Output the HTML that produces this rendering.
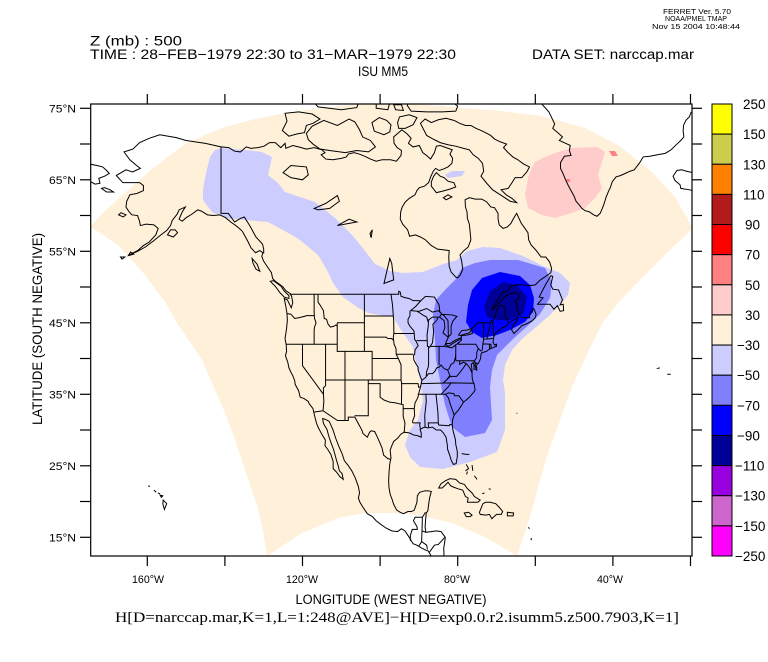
<!DOCTYPE html>
<html><head><meta charset="utf-8"><style>
html,body{margin:0;padding:0;background:#fff;}
svg{display:block;}
text{font-family:"Liberation Sans",Arial,sans-serif;fill:#000;}
</style></head><body>
<svg width="768" height="662" viewBox="0 0 768 662" xmlns="http://www.w3.org/2000/svg">
<defs><clipPath id="fr"><rect x="90.7" y="104" width="601.3" height="452"/></clipPath></defs>
<rect width="768" height="662" fill="#fff"/>
<g clip-path="url(#fr)">
<path fill="#fff0da" d="M90,227 L100,216 L118,199 L135,184 L152,169 L168,157 L185,144 L205,135 L225,127 L255,119 L285,113 L320,108 L352,105 L380,104 L410,104 L452,107 L500,111 L542,116 L585,128 L618,145 L652,172 L675,197 L692,227 L692,229 L670,250 L652,268 L635,285 L618,303 L603,322 L588,352 L572,387 L560,420 L548,453 L540,480 L532,510 L524,535 L517,556 L485,537 L452,523 L418,515 L395,513 L365,513 L338,518 L302,533 L267,556 L263,530 L257,505 L245,470 L235,440 L225,413 L213,385 L202,360 L190,342 L178,325 L165,302 L145,275 L118,245 L100,233 Z"/>
<path fill="#ccccff" d="M210,157 L215,150 L222,148 L245,150 L262,152 L272,157 L270,166 L268,175 L278,183 L285,192 L300,197 L315,202 L325,210 L335,218 L345,228 L352,235 L362,247 L375,264 L390,271 L403,273 L423,272 L443,264 L457,260 L467,251 L483,247 L500,248 L523,256 L543,266 L560,273 L570,283 L568,295 L560,305 L550,315 L535,328 L523,338 L512,350 L505,365 L503,380 L505,393 L505,430 L497,452 L470,462 L443,469 L420,467 L410,457 L405,445 L410,430 L418,420 L423,400 L420,380 L417,367 L413,347 L403,333 L393,317 L368,313 L357,307 L343,297 L333,283 L327,270 L318,255 L300,240 L292,235 L268,222 L245,220 L225,218 L212,212 L203,200 L203,190 L205,178 L208,165 Z"/>
<path fill="#ccccff" d="M445,175 L452,171 L465,171 L462,176 L448,178 Z"/>
<path fill="#8080ff" d="M433,315 L436,300 L445,290 L455,280 L462,268 L475,263 L490,260 L518,260 L545,268 L552,282 L550,298 L540,314 L532,322 L512,340 L497,355 L492,370 L490,387 L492,420 L485,433 L465,437 L452,427 L445,405 L440,380 L436,360 L435,340 Z"/>
<path fill="#0000ff" d="M466,322 L468,305 L472,290 L482,278 L500,272 L520,276 L530,285 L534,298 L533,312 L525,322 L510,330 L497,335 L482,338 L472,332 Z"/>
<path fill="#000099" d="M484,307 L490,291 L503,282 L517,285 L527,297 L524,313 L510,320 L497,320 L487,317 Z"/>
<path fill="#ffcccc" d="M532,167 L535,162 L545,157 L558,152 L572,148 L598,147 L605,152 L602,162 L598,175 L602,188 L595,198 L585,208 L572,213 L555,218 L542,215 L528,208 L525,195 L528,178 Z"/>
<path fill="#ff8080" d="M609,151 L615,151 L618,156 L612,156 Z M566,179 L570,179 L570,182 L566,182 Z"/>
<g transform="matrix(3.88 0 0 -7.15 768.1 644.55)" fill="none" stroke="#000" stroke-width="1" vector-effect="non-scaling-stroke">
<g vector-effect="non-scaling-stroke">
<path vector-effect="non-scaling-stroke" d="M-141,69.6 L-145,70.1 -150,70.5 -152.5,70.9 -156.8,71.3 -159.5,70.8 -162,70.2 -163.7,69.3 -166,68.9 -164.5,67.8 -163,67.1 -161.8,66.6 -163.8,66.1 -165.5,66.4 -168,65.6 -166.3,64.6 -164.5,64.6 -162,64.6 -161,64.2 -161,63.5 -162.6,63.1 -164.5,62.9 -165.3,62 -165.5,61.2 -164.8,60.6 -164,60.1 -162.5,60 -162,59.2 -161.8,58.6 -160.3,58.8 -158.3,58.7 -157.2,58.2 -157.8,57.3 -159.5,56.3 -161,55.8 -162.5,55.1 -164.6,54.5 -162.5,55 -160.5,55.6 -158.5,56.4 -156.5,57.3 -155,57.9 -154,58.6 -153.6,59.3 -152.3,60.2 -151.8,60.8 -150.2,61.2 -151,60.5 -151.8,59.5 -151,59.2 -150,59.7 -148.5,60.2 -147,60.8 -146,60.6 -144.5,60.1 -143,60 -141.3,60.1 -139.8,59.7 -138.5,59.1 -137.2,58.6 -136.3,58.2 -135.5,57.8 -134.7,57 -134,56.3 -133.3,55.5 -132.1,54.8 -131,55.1 -130.2,54.8 -130.5,54.3 -130,53.6 -129,52.8 -128,52 -127.7,51.2 -127,50.8 -125.7,50.3 -125,50 -124.3,49.5 -123.2,49.1 -122.8,48.7 -122.5,47.8 -122.9,47.1 -123.9,48.2 -124.7,48.4 -124.3,47.3 -124,46.3 -123.9,45.4 -124.1,44.2 -124.5,42.8 -124.2,41.9 -124.1,41 -124.4,40.4 -123.8,39.5 -123.5,38.7 -123,38.1 -122.5,37.6 -122,36.9 -121.9,36.4 -121,35.5 -120.6,34.6 -119.6,34.4 -118.5,34 -118.3,33.7 -117.3,33 -117.1,32.5 -116.7,31.6 -116.3,30.8 -115.8,30.2 -114.9,29.3 -114.1,28.6 -114.2,27.8 -113.5,27.3 -112.7,26.6 -112.1,25.6 -112.1,24.6 -111.2,24.1 -110.4,23.5 -109.5,23.1 -109.8,23.9 -110.5,24.3 -110.7,24.8 -111.3,25.9 -112,27.3 -112.7,28.3 -113.2,29.1 -113.7,30.1 -114.6,30.9 -114.8,31.6 -114.1,31.5 -113.1,31.2 -112.2,30.1 -111.4,28.8 -110.7,27.8 -109.8,26.7 -109.2,25.7 -108.3,25.1 -107.3,24.3 -106.4,23.3 -105.6,22.1 -105.3,21.2 -105.6,20.5 -105.2,19.9 -104.3,19.1 -103.3,18.3 -102,17.9 -101,17.3 -99.8,16.8 -98.5,16.3 -97,15.9 -95.5,15.8 -94.5,16.2 -93.6,15.9 -92.5,15 -91.5,14.1 -90.5,13.9 -89.3,13.5 -88.2,13.2 -87.6,13.1 -87.3,12.8 -86.6,12.2 -86,11.6"/>
<path vector-effect="non-scaling-stroke" d="M-83.5,12 L-83.6,13.5 -83.3,14.5 -83.2,15 -84.3,15.8 -85.5,15.9 -86.8,15.8 -88.2,15.7 -88.4,16.4 -88.3,17.3 -88.1,18.4 -87.7,18.7 -87.5,19.6 -87.2,20.6 -86.8,21.4 -87.6,21.5 -88.5,21.5 -89.8,21.3 -90.4,20.8 -90.5,19.9 -91.2,18.8 -91.9,18.6 -92.8,18.6 -94,18.3 -94.8,18.5 -95.7,18.8 -96.5,19.6 -96.9,20.3 -97.4,21 -97.7,21.9 -97.8,22.9 -97.7,24.1 -97.5,25.3 -97.2,26.1 -97.4,27.2 -97,27.8 -96.5,28.4 -95.4,28.9 -94.7,29.4 -93.8,29.7 -92.5,29.6 -91.3,29.3 -90.3,29.2 -89.4,29 -89.4,29.6 -89.7,30.1 -88.6,30.4 -87.6,30.3 -86.5,30.4 -85.5,30 -84.4,30 -83.7,29.6 -83,29 -82.7,28 -82.6,27.3 -82,26.4 -81.7,25.8 -81.1,25.2 -80.4,25.3 -80.1,26.3 -80.1,27 -80.5,28 -80.6,28.7 -81.2,29.9 -81.4,30.7 -81.3,31.5 -80.8,32.2 -79.8,32.8 -79.2,33.3 -78.5,33.9 -77.8,34.2 -76.8,34.7 -76,35.2 -75.5,35.6 -75.8,36.5 -76.2,37 -76.3,37.6 -76.3,38.3 -76.5,39.2 -76.1,39.4 -75.5,39 -75.1,38.3 -75.1,38.8 -75.5,39.5 -74.9,39.2 -74.5,39.5 -74.1,40 -74,40.6 -73.8,40.8 -72.6,41 -71.9,41.3 -71,41.5 -70.6,41.6 -70,41.7 -70,42 -70.5,41.9 -70.9,42.3 -70.7,43 -70.2,43.6 -69.5,43.9 -68.5,44.3 -67.5,44.5 -67,44.9 -66.2,45.2 -65,45.6 -64.4,45.8 -64.8,45.2 -65.8,44.6 -66.1,44 -65.5,43.5 -64.5,44 -63.5,44.6 -62.5,44.8 -61,45.2 -60,45.7 -59.8,46.2 -60.4,47 -61,46.6 -61.4,46.2 -61.5,45.7 -62.5,45.7 -63.5,45.8 -64.2,46.2 -64.6,46.8 -64.8,47.8 -65.3,48 -64.3,48.4 -64.3,48.9 -65.2,49.2 -66.5,49.1 -68,48.6 -69.2,47.9 -70.3,47.2 -71.2,46.8 -70.5,47.4 -69.7,48.2 -68.3,49.3 -67.2,49.4 -66.2,50.2 -64.5,50.3 -63,50.3 -61.5,50.2 -60,50.3 -58.7,51 -57.3,51.5 -56,52 -55.8,52.6 -56.3,53.5 -57.3,54.2 -58.5,54.2 -59.9,55.2 -61.1,55.9 -61.7,56.6 -61.9,57.6 -62.8,58.3 -63.6,58.9 -64.2,59.6 -64.8,60.3 -65.4,59.8 -66.3,58.9 -67.2,58.4 -68.3,58.2 -69.3,58.7 -69.6,59.5 -69.6,60.3 -70.5,61.1 -71.5,61.2 -72.5,61.9 -73.8,62.3 -75.5,62.3 -77,62.5 -78.1,62.2 -78,61.2 -77.6,60.5 -77.5,59.6 -77,58.8 -76.8,57.7 -76.6,56.6 -77.3,55.6 -78.4,55.1 -79.4,54.5 -79,53.7 -78.7,52.5 -79.3,51.7 -80,51.3 -80.5,51.4 -81.7,52.1 -82.2,52.9 -82.3,54.2 -82.2,55.1 -83.5,55.2 -85.2,55.3 -86.8,55.8 -88.3,56.6 -89.6,57 -90.9,57.3 -92.4,57.1 -92.9,58 -94.2,58.8 -94.8,59.5 -94.7,60.5 -94.3,61.2 -93.5,61.9 -92.5,62.4 -91,62.9 -90.5,63.5 -89.9,63.9 -88.6,64.1 -87.5,64.6 -86.9,65.5 -86.3,66.2 -85.7,66.6 -84.8,66.3 -83.7,66.5 -82.5,66.8 -81.5,67.3 -81.3,68 -82,68.6 -81.4,69.2 -83,69.5 -84.5,69.8 -85.5,69.7 -86,68.8 -87,67.9 -88,68.4 -89,68.8 -89.9,69.8 -91.5,69.6 -92.7,70.1 -92,70.8 -93,71.4 -94.4,72 -95.2,71.6 -96.5,71 -96.4,70.1 -95.6,69.5 -94.5,69.1 -94.6,68.4 -95.8,67.6 -97.3,67.8 -98.6,67.8 -99.5,67.8 -101,67.6 -102.5,67.9 -104,68.3 -105.4,68.6 -106.7,68.8 -108.2,68.6 -108.7,68.2 -110,68 -112.2,67.8 -114,67.9 -115.2,68.5 -114.2,68.8 -115,69.2 -117,69.5 -119,69.3 -121,69.6 -122.5,69.8 -124.3,69.4 -124.5,70.1 -125.6,69.5 -127,70.2 -128.5,70.2 -129.9,69.7 -131.5,69.5 -133.3,69.4 -134.5,69.6 -136,68.9 -137.5,69 -139,69.5 -141,69.6"/>
<path vector-effect="non-scaling-stroke" d="M-58,76.6 L-58.5,75.7 -57.5,75.1 -56.5,74.5 -55.7,73.6 -55,72.8 -55.5,72.2 -54,71.5 -53,71 -53.8,70.5 -52.2,70.1 -51,69.8 -51.2,69.1 -50.8,68.4 -52.5,68.3 -53.5,67.4 -53.5,66.6 -52.8,65.8 -52.2,65 -51.5,64.2 -50.7,63.4 -50,62.7 -49.5,62 -48.7,61.5 -48,61 -47.2,60.7 -46,60.5 -45,60.1 -44.1,59.9 -43.3,60.3 -42.8,60.9 -42.3,61.6 -41.8,62.5 -41.2,63.3 -40.6,64 -40.2,64.7 -39.2,65.4 -38,65.6 -36.8,65.9 -35.6,66.2 -34.5,66.4 -33.2,67.3 -32.2,68.2 -30.5,68.3 -28.5,68.5 -26.5,68.7 -25,69.2 -23.5,70 -22.5,70.5 -21.7,71 -21.9,71.8 -21.8,72.6 -21.2,73.3 -20.3,73.8 -19.8,74.5"/>
<path vector-effect="non-scaling-stroke" d="M-24.5,65.5 L-23.5,66.3 -22.3,66.4 -21,66.2 -19.5,66 -18,66.2 -16,66.5 -14.5,66 -13.6,65.2 -14.8,64.4 -16.5,63.8 -18.5,63.4 -20.3,63.6 -22.5,63.8 -22.7,64.3 -24,64.9 Z"/>
<path vector-effect="non-scaling-stroke" d="M-125.2,71.9 L-124,73.2 -124.5,74.3 -121,74.5 -117.5,74.2 -115.5,73.5 -117.3,72.9 -119,72.6 -119.5,71.6 -121.5,71.4 -123.5,71.1 Z M-119,71.5 L-117.5,72.5 -114.5,73.3 -111,72.6 -108,73.5 -106.5,73.1 -105.3,72 -104.5,71 -102.5,70.5 -101.2,69.6 -103,68.9 -106,69.1 -109,68.8 -113,69.1 -115.5,69.3 -117.3,70 -118.5,70.6 Z M-101.5,71.8 L-99,71.3 -97.5,71.7 -97.2,72.7 -98.3,73.3 -100.2,73.7 -102.1,73 Z M-95.2,72.2 L-93.5,72.2 -91.5,72.7 -90.5,73.7 -92.5,74.1 -95,73.8 -95.5,73 Z M-92,74.6 L-88,74.5 -84,74.5 -80.5,74.6 -80,75.3 -82,76.1 -85,75.8 -88,75.9 -90,76.3 -92.5,76.2 -93,75.4 Z M-96,74.8 L-94,74.7 -94.5,75.5 -96.5,75.5 Z M-101,75 L-98,74.8 -97.5,75.8 -98.5,76.2 -101,76.3 Z M-116,75.2 L-110,74.8 -106,75.1 -105.5,75.9 -108,76.3 -112,76.3 -116,76.5 -117.5,76.1 Z"/>
<path vector-effect="non-scaling-stroke" d="M-64.8,61.8 L-66,62.4 -67.5,62.9 -68.8,63.6 -67,63.8 -66,64.6 -65.2,65.3 -63.5,65.3 -62.2,66.1 -61.5,66.8 -63,67.2 -64.5,67.8 -65.8,68.2 -67,68.8 -68.2,69.5 -67.4,70 -69,70.3 -70.5,70.7 -71.5,71.2 -72.5,71.5 -74,71.9 -75.3,72.2 -76.6,72.6 -78,72.6 -79.5,72.9 -80.9,73.3 -83,73.6 -85,73.4 -86.8,73 -88.4,73.5 -89.6,72.9 -88,71.2 -86,70.6 -84.5,70.2 -82.5,69.9 -80.5,69.7 -78.5,69.4 -77,69.2 -76,68.5 -74.7,68 -73.6,67.3 -73.3,66.2 -74,65.5 -72.5,64.5 -71,63.6 -69,62.9 -66.5,62 Z M-86.8,64.1 L-85.5,63.2 -84,63.4 -82,63.7 -80.5,64 -81,64.6 -82.5,64.8 -83.5,65.3 -84.5,65.5 -85.5,66 -86.2,65.5 -86.8,64.7 Z M-83,62.2 L-81.5,62.6 -82.5,62.9 -83.7,62.5 Z"/>
<path vector-effect="non-scaling-stroke" d="M-125,66 L-123,67 -119,66.8 -118.5,65.7 -120,65 -123,65.3 Z M-117,61 L-114,61.7 -111,62.8 -110.5,62 -113,61 -116,60.8 Z M-111,58.6 L-108,59.5 -106,59.1 -108,58.9 Z M-99,50.5 L-97.5,54 -97,53.3 -96.5,51 Z M-102.3,56.9 L-102,58 -102.6,57.5 Z"/>
<path vector-effect="non-scaling-stroke" d="M-59.4,47.6 L-58,48.5 -59,48.6 -57.5,50.2 -56,51.6 -55.5,51.5 -56,50.3 -55.5,49.7 -54,49.6 -53.5,48.9 -53,48.2 -53.6,47.5 -52.8,47.6 -52.7,46.7 -53.6,46.6 -54.3,47.4 -55.2,46.9 -56.2,47.6 -58,47.6 Z M-128.3,50.8 L-127,50.1 -125.8,49.2 -124.7,48.6 -123.5,48.4 -123.5,48.8 -124.8,49.5 -125.5,50.1 -127.5,50.9 Z M-133,54 L-131.7,53.2 -131,52.2 -132,52.5 -132.8,53.4 Z M-154.8,57.3 L-153.3,57 -152.2,57.6 -152.8,58 -154,58 Z M-171.8,63.8 L-170.5,63.3 -168.7,63.3 -169.6,63.6 -171,63.9 Z M-166.8,60.4 L-165.5,60.1 -166.2,59.8 -167.4,60.1 Z M-166.5,53.9 L-165.8,54.2 -166.9,54.2 Z M-164.9,54.4 L-163.5,54.6 -164.3,54.9 Z M-174.8,67.2 L-173,67 -171.5,66.8 -170.5,66.3 -169.8,65.9 -171,65.5 -172.5,65.2 -172.2,64.5 -173.5,64.4 -174.8,64.8"/>
<path vector-effect="non-scaling-stroke" d="M-84.9,21.9 L-84.3,22.5 -83.2,22.9 -82,23.2 -80.5,23.1 -79.5,22.6 -78.3,22.4 -77.5,21.8 -76.3,21.2 -75.7,20.7 -74.2,20.2 -74.8,19.9 -76,19.9 -77.5,19.9 -77.3,20.5 -78,20.7 -78.7,21.6 -80,21.8 -81,22 -81.8,22.2 -82.5,22.7 -83.2,22.3 -84,21.9 Z M-74.4,18.5 L-73.5,19.7 -72.8,19.9 -71.6,19.9 -70.2,19.7 -69.3,19.2 -68.4,18.6 -68.8,18.2 -70,18.2 -71.2,17.6 -71.8,18.2 -72.8,18.1 -74.2,18.2 Z M-78.3,18.4 L-77.2,18.5 -76.3,18.1 -76.8,17.9 -77.8,17.9 Z M-67.2,18.5 L-65.6,18.4 -65.7,18 -67.2,18 Z M-79,26.7 L-77.8,26.6 -77,26.6 M-77.8,25.2 L-77.2,24.6 -78,24.3 M-76.3,25.1 L-76.1,24.3 M-75.7,23.6 L-75,23.1 M-77.5,24.2 L-77.7,23.8 M-73.7,21.1 L-73.1,21.2 M-72,21.8 L-71.5,21.7 M-61.8,16.4 L-61.5,16.2 M-61,14.6 L-61.1,14.9 M-64.8,32.3 L-64.7,32.4 M-28.7,38.6 L-27.9,38.7 M-26,37.8 L-25.1,37.8"/>
<path vector-effect="non-scaling-stroke" d="M-155.9,20.2 L-155,19.7 -155.6,18.9 -156,19.7 Z M-156.7,20.9 L-156,20.8 -156.4,20.6 Z M-157.3,21.2 L-156.7,21.1 M-158.3,21.6 L-157.7,21.3 M-159.8,22.2 L-159.3,22.1"/>
<path vector-effect="non-scaling-stroke" d="M-92.1,46.7 L-90,46.6 -88,47 -86.5,46.5 -85,46.7 -84.6,46.5 -84.8,47.5 -86,48.6 -88.3,48.7 -89.5,48.1 -90.8,47.3 Z M-87.8,41.7 L-87.2,41.6 -86.5,42.2 -86.2,43.8 -86.4,44.8 -85.6,45.2 -85,45.8 -86.5,45.8 -87.5,45.4 -87.6,44.5 -87.9,43.3 Z M-84.7,45.8 L-83.5,45.3 -83.3,44.3 -83.8,43.6 -82.5,43 -81.7,43.4 -81.7,44.5 -81.3,45.2 -80.2,45.9 -81.5,46.1 -84.2,46.2 Z M-83.4,41.7 L-81.5,41.5 -80,42.1 -79,42.6 -79.2,42.9 -80.5,42.6 -82,42.1 -83.1,42.1 Z M-79.8,43.3 L-79.2,43.2 -77.5,43.3 -76.2,43.5 -76.5,44.2 -77.5,44 -79,43.9 Z"/>
<path vector-effect="non-scaling-stroke" d="M-141,69.6 L-141,60.3 -139.1,60.3 -137.5,59.1 -136,59.6 -135,59.8 -133.5,58.5 -132,57 -130.3,56 -130,55.3 -130,54.7 M-123.3,49 L-95.2,49 -95.2,49.4 -94.8,49.3 -94.6,48.7 -93.5,48.5 -92.5,48.4 -91.5,48.1 -90,48.1 -89.5,48 M-84.5,46.5 L-84.1,46.2 -83.5,46 -82.5,45.3 -82.4,43 -83,42.3 -83.1,42 -82.4,41.7 -81,42.2 -79.1,42.8 -79,43.3 -77,43.6 -76.3,44.2 -75,44.9 -74.7,45 -71.5,45 -71.3,45.3 -70.8,45.4 -70.3,45.9 -70,46.7 -69.2,47.4 -68.3,47.4 -67.8,47.1 -67.8,45.8 -67.4,45.6 -67,45.1"/>
<path vector-effect="non-scaling-stroke" d="M-124,46.3 L-123,46.2 -122,45.6 -121,45.7 -119.5,45.9 -119,46 -117,46 M-117,49 L-117,46.4 -116.9,45.6 -116.5,45 -116.9,44.4 -117,44 -117,42 M-124.2,42 L-111,42 M-116,49 L-116,47.9 -115.5,47.5 -114.6,46.7 -114.4,45.6 -113.8,45.5 -113.4,44.8 -112.8,44.4 -112,44.5 -111.4,44.7 -111,44.5 M-111.05,45 L-104.05,45 M-111.05,45 L-111.05,41 -104.05,41 M-104.05,49 L-104.05,41 -102.05,41 -102.05,37 M-114.05,42 L-114.05,37 -109.05,37 -109.05,41 M-120,42 L-120,39 -114.6,35 M-114.05,37 L-114.05,36.2 -114.6,35.9 -114.6,35 -114.5,34 -114.7,32.7 M-109.05,37 L-102.05,37 M-102.05,40 L-95.3,40 M-109.05,37 L-109.05,31.33 M-117.1,32.5 L-114.7,32.7 -111,31.33 -108.2,31.33 -108.2,31.8 -106.5,31.8 -105.5,30.8 -104.7,30 -104.4,29.5 -103.3,29 -102.7,29.7 -102.3,29.9 -101.4,29.8 -100.6,28.9 -99.5,27.5 -99.1,26.5 -98,26 -97.2,25.9 M-106.6,32 L-103.05,32 -103.05,37 M-103.05,36.5 L-100,36.5 -100,34.6 -99,34.2 -97.5,33.9 -96,33.8 -94.5,33.6 -94.05,33.55 -94.05,31.9 -93.6,31 -93.7,30.2 -93.8,29.7 M-103.05,37 L-94.6,37 M-94.6,37 L-94.45,36.5 -94.45,35.4 -94.5,33.6 M-95.3,40 L-94.9,39.5 -94.6,39.1 -94.6,37 M-104.05,43 L-98.5,43 -98,42.8 -97,42.8 -96.5,42.5 -96.4,42 -95.9,41.4 -95.85,40.6 -95.3,40 M-104.05,45.95 L-96.6,45.95 M-97.2,49 L-96.8,47.5 -96.6,46 -96.5,45.3 -96.45,43.5 -96.6,43 -96.5,42.5 M-96.45,43.5 L-91.2,43.5 M-95.8,40.6 L-91.4,40.6 M-92.3,46.7 L-92.3,46 -92.8,45.5 -92.8,45 -92.3,44.5 -91.3,43.9 -91.2,43.5 -91.1,42.7 -90.6,42.3 -90.2,41.8 -91,41.2 -91.1,40.6 -91.4,40.4 -91.3,39.8 -90.7,39.2 -90.2,38.8 -90.2,38.4 -89.5,37.3 -89.2,37 -89.4,36.5 -89.6,36 -90,35.2 -90.3,34.5 -91,33.8 -91.2,33 -91.1,32 -91.6,31.3 -91.6,31 M-94.6,36.5 L-90.2,36.5 -90.1,36 -89.7,36 M-94.05,33 L-91.2,33 M-91.6,31 L-89.7,31 -89.8,30.7 -89.6,30.2 M-88.2,35 L-88.1,34 -88.5,32 -88.4,30.4 M-90.3,35 L-84.3,35 -83.1,35 -82.4,35.2 -81,35.1 -80.8,34.8 -79.7,34.8 -78.5,33.9 M-85.6,35 L-85.1,32.5 -85,31 -87.6,31 -87.5,30.4 M-85,31 L-84.9,30.7 -82.2,30.6 -82,30.8 -81.5,30.7 M-83.1,35 L-82.4,34.5 -81.9,33.6 -81.3,32.7 -80.9,32.1 M-89.5,36.5 L-81.7,36.6 -75.9,36.55 M-81.7,36.6 L-82.5,36 -84.3,35 M-89.1,37 L-88.2,37.4 -87.5,37.9 -86.5,37.9 -85.9,38.2 -85.4,38.7 -84.8,38.8 -84.3,39.1 -83.5,38.6 -82.6,38.4 -82.2,38.6 -81.7,39.2 -81,39.4 -80.6,40.1 -80.5,40.6 M-82.6,38.4 L-82,37.6 -82.9,37 -83.7,36.6 M-87.5,41.7 L-87.5,39.3 -87.6,38.8 -88,38.2 -88.1,37.5 M-90.6,42.5 L-87.8,42.5 M-84.8,41.7 L-84.8,39.1 M-87,41.7 L-83.4,41.7 M-80.5,42 L-80.5,39.7 M-90.4,46.6 L-89,46.1 -88,45.8 -87.6,45.1 M-80.5,39.7 L-75.8,39.7 -75.5,39.8 M-79.8,42.3 L-79.8,42 -75.3,42 -74.7,41.4 -75.1,40.8 -75.1,40.2 -75.5,39.8 M-74.7,41.4 L-73.9,41 M-75.8,39.7 L-75.8,38.5 -75.1,38.5 M-80.5,39.7 L-79.5,39.7 -79.5,39.2 -78.5,39.5 -77.8,39.3 -78.4,38.8 -79.5,38 -80.3,37.5 -81.9,37.5 M-77.8,39.3 L-77,38.8 -76.3,38 M-81.9,37.5 L-83.7,36.6 M-73.7,41.1 L-73.5,42.1 -73.3,42.7 -73.3,45 M-73.3,42.7 L-70.9,42.8 M-73.5,42.05 L-71.4,42 -71.4,41.4 M-71.8,42 L-71.8,41.3 M-71.5,45 L-72.5,42.7 M-71,45.3 L-70.7,43.1"/>
<path vector-effect="non-scaling-stroke" d="M-92.2,14.5 L-92.2,15.3 -91.7,16.1 -90.4,16.1 -90.5,16.5 -91.4,17.3 -91,17.8 -89.1,17.8 -88.3,18.5 M-89.1,17.8 L-89.2,15.9 -88.2,15.7 M-89.2,15.9 L-89.3,14.4 -90.1,13.7 M-89.3,14.4 L-88,13.9 -87.8,13.3 M-87.3,12.9 L-86,13.9 -85,14 -83.3,15"/>
</g>
</g>
</g>
<rect x="90.7" y="104" width="601.3" height="452" fill="none" stroke="#000" stroke-width="1.2"/>
<g stroke="#000" stroke-width="1.2">
<line x1="147.3" y1="94" x2="147.3" y2="104"/><line x1="224.9" y1="94" x2="224.9" y2="104"/><line x1="302.5" y1="94" x2="302.5" y2="104"/><line x1="380.1" y1="94" x2="380.1" y2="104"/><line x1="457.7" y1="94" x2="457.7" y2="104"/><line x1="535.3" y1="94" x2="535.3" y2="104"/><line x1="612.9" y1="94" x2="612.9" y2="104"/><line x1="690.5" y1="94" x2="690.5" y2="104"/>
<line x1="147.3" y1="556" x2="147.3" y2="566"/><line x1="224.9" y1="556" x2="224.9" y2="566"/><line x1="302.5" y1="556" x2="302.5" y2="566"/><line x1="380.1" y1="556" x2="380.1" y2="566"/><line x1="457.7" y1="556" x2="457.7" y2="566"/><line x1="535.3" y1="556" x2="535.3" y2="566"/><line x1="612.9" y1="556" x2="612.9" y2="566"/><line x1="690.5" y1="556" x2="690.5" y2="566"/>
<line x1="80" y1="108.3" x2="90.7" y2="108.3"/><line x1="80" y1="144" x2="90.7" y2="144"/><line x1="80" y1="179.8" x2="90.7" y2="179.8"/><line x1="80" y1="215.5" x2="90.7" y2="215.5"/><line x1="80" y1="251.3" x2="90.7" y2="251.3"/><line x1="80" y1="287" x2="90.7" y2="287"/><line x1="80" y1="322.8" x2="90.7" y2="322.8"/><line x1="80" y1="358.5" x2="90.7" y2="358.5"/><line x1="80" y1="394.3" x2="90.7" y2="394.3"/><line x1="80" y1="430" x2="90.7" y2="430"/><line x1="80" y1="465.8" x2="90.7" y2="465.8"/><line x1="80" y1="501.5" x2="90.7" y2="501.5"/><line x1="80" y1="537.3" x2="90.7" y2="537.3"/>
<line x1="692" y1="108.3" x2="702" y2="108.3"/><line x1="692" y1="144" x2="702" y2="144"/><line x1="692" y1="179.8" x2="702" y2="179.8"/><line x1="692" y1="215.5" x2="702" y2="215.5"/><line x1="692" y1="251.3" x2="702" y2="251.3"/><line x1="692" y1="287" x2="702" y2="287"/><line x1="692" y1="322.8" x2="702" y2="322.8"/><line x1="692" y1="358.5" x2="702" y2="358.5"/><line x1="692" y1="394.3" x2="702" y2="394.3"/><line x1="692" y1="430" x2="702" y2="430"/><line x1="692" y1="465.8" x2="702" y2="465.8"/><line x1="692" y1="501.5" x2="702" y2="501.5"/><line x1="692" y1="537.3" x2="702" y2="537.3"/>
</g>
<g stroke="#000" stroke-width="1">
<rect x="712" y="104" width="20" height="30.13" fill="#ffff00"/>
<rect x="712" y="134.13" width="20" height="30.13" fill="#cccc4d"/>
<rect x="712" y="164.27" width="20" height="30.13" fill="#ff8000"/>
<rect x="712" y="194.4" width="20" height="30.13" fill="#b31a1a"/>
<rect x="712" y="224.53" width="20" height="30.13" fill="#ff0000"/>
<rect x="712" y="254.67" width="20" height="30.13" fill="#ff8080"/>
<rect x="712" y="284.8" width="20" height="30.13" fill="#ffcccc"/>
<rect x="712" y="314.93" width="20" height="30.13" fill="#fff0da"/>
<rect x="712" y="345.07" width="20" height="30.13" fill="#ccccff"/>
<rect x="712" y="375.2" width="20" height="30.13" fill="#8080ff"/>
<rect x="712" y="405.33" width="20" height="30.13" fill="#0000ff"/>
<rect x="712" y="435.47" width="20" height="30.13" fill="#000099"/>
<rect x="712" y="465.6" width="20" height="30.13" fill="#9900e0"/>
<rect x="712" y="495.73" width="20" height="30.13" fill="#cc66cc"/>
<rect x="712" y="525.87" width="20" height="30.13" fill="#ff00ff"/>
</g>
<g font-size="13.5">
<text x="743" y="109">250</text>
<text x="743" y="139.1">150</text>
<text x="743" y="169.3">130</text>
<text x="743" y="199.4">110</text>
<text x="745" y="229.5">90</text>
<text x="745" y="259.7">70</text>
<text x="745" y="289.8">50</text>
<text x="745" y="319.9">30</text>
<text x="737" y="350.1">−30</text>
<text x="737" y="380.2">−50</text>
<text x="737" y="410.3">−70</text>
<text x="737" y="440.5">−90</text>
<text x="735" y="470.6">−110</text>
<text x="735" y="500.7">−130</text>
<text x="735" y="530.9">−150</text>
<text x="735" y="561">−250</text>
</g>
<g font-size="11" text-anchor="end">
<text x="76" y="112.3" textLength="27" lengthAdjust="spacingAndGlyphs">75°N</text>
<text x="76" y="183.8" textLength="27" lengthAdjust="spacingAndGlyphs">65°N</text>
<text x="76" y="255.3" textLength="27" lengthAdjust="spacingAndGlyphs">55°N</text>
<text x="76" y="326.8" textLength="27" lengthAdjust="spacingAndGlyphs">45°N</text>
<text x="76" y="398.3" textLength="27" lengthAdjust="spacingAndGlyphs">35°N</text>
<text x="76" y="469.8" textLength="27" lengthAdjust="spacingAndGlyphs">25°N</text>
<text x="76" y="541.3" textLength="27" lengthAdjust="spacingAndGlyphs">15°N</text>
</g>
<g font-size="11" text-anchor="middle">
<text x="148" y="583" textLength="32" lengthAdjust="spacingAndGlyphs">160°W</text>
<text x="302" y="583" textLength="32" lengthAdjust="spacingAndGlyphs">120°W</text>
<text x="457" y="583" textLength="26" lengthAdjust="spacingAndGlyphs">80°W</text>
<text x="610" y="583" textLength="26" lengthAdjust="spacingAndGlyphs">40°W</text>
</g>
<text x="295.5" y="604" font-size="13.5" textLength="191" lengthAdjust="spacingAndGlyphs">LONGITUDE (WEST NEGATIVE)</text>
<text transform="translate(42,329) rotate(-90)" text-anchor="middle" font-size="13.5" textLength="192" lengthAdjust="spacingAndGlyphs">LATITUDE (SOUTH NEGATIVE)</text>
<text x="115" y="622" font-size="15" style="font-family:'Liberation Serif',serif" textLength="564" lengthAdjust="spacingAndGlyphs">H[D=narccap.mar,K=1,L=1:248@AVE]−H[D=exp0.0.r2.isumm5.z500.7903,K=1]</text>
<text x="90" y="45.5" font-size="13.5" textLength="92" lengthAdjust="spacingAndGlyphs">Z (mb) : 500</text>
<text x="90" y="59" font-size="13.5" textLength="366" lengthAdjust="spacingAndGlyphs">TIME : 28−FEB−1979 22:30 to 31−MAR−1979 22:30</text>
<text x="532" y="59" font-size="13.5" textLength="162" lengthAdjust="spacingAndGlyphs">DATA SET: narccap.mar</text>
<text x="358" y="76" font-size="13.5" textLength="50" lengthAdjust="spacingAndGlyphs">ISU MM5</text>
<g font-size="7" text-anchor="middle">
<text x="697" y="14" textLength="68" lengthAdjust="spacingAndGlyphs">FERRET Ver. 5.70</text>
<text x="696" y="21" textLength="62" lengthAdjust="spacingAndGlyphs">NOAA/PMEL TMAP</text>
<text x="696" y="29" textLength="88" lengthAdjust="spacingAndGlyphs">Nov 15 2004 10:48:44</text>
</g>
</svg>
</body></html>
